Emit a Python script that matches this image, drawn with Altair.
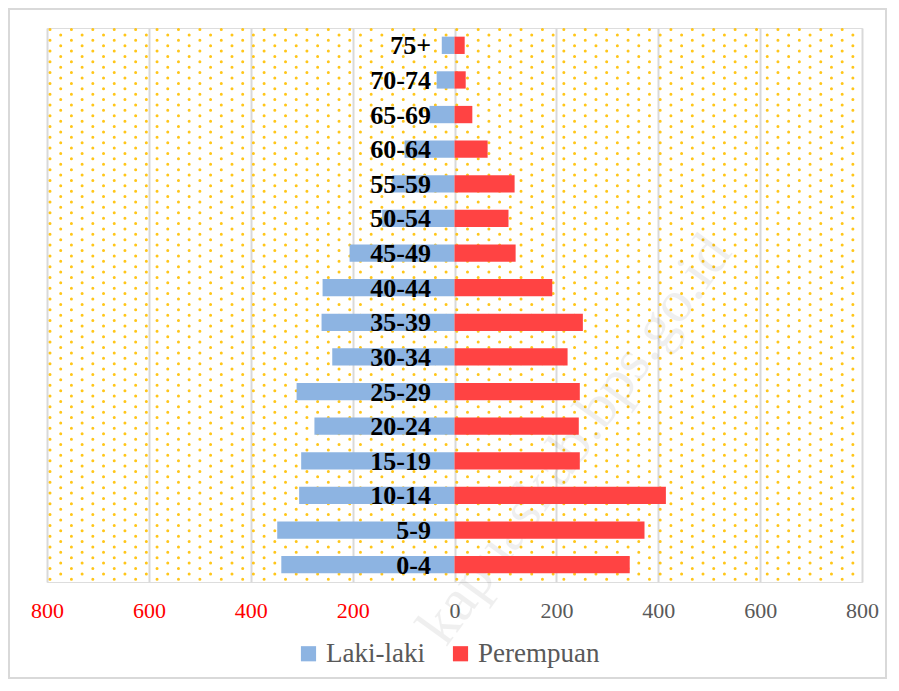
import altair as alt
import pandas as pd

ages = ["0-4", "5-9", "10-14", "15-19", "20-24", "25-29", "30-34", "35-39",
        "40-44", "45-49", "50-54", "55-59", "60-64", "65-69", "70-74", "75+"]
male = [340, 348, 305, 301, 275, 310, 240, 261, 259, 206, 142, 122, 98, 49, 35, 25]
female = [344, 373, 415, 246, 244, 246, 222, 252, 192, 120, 106, 118, 65, 35, 22, 20]
sexes = ["Laki-laki", "Perempuan"]
colors = ["#8DB4E2", "#FF4343"]
ticks = [-800, -600, -400, -200, 0, 200, 400, 600, 800]

W, H = 815, 554
order = ages[::-1]

rows = []
for a, m, f in zip(ages, male, female):
    rows.append({"age": a, "sex": sexes[0], "val": -m})
    rows.append({"age": a, "sex": sexes[1], "val": f})
df = pd.DataFrame(rows)
lab = pd.DataFrame({"age": ages})

font = "Liberation Serif"

# dotted background pattern (decoration)
dots_base = alt.Chart(alt.sequence(0, 103, as_="i")).transform_calculate(
    py="1.5 + datum.i * 5.39", par="datum.i % 2"
)
dot_style = dict(color="#FFC000", strokeWidth=3, strokeCap="round", strokeDash=[0.01, 21.4], opacity=0.9)
dots_even = dots_base.transform_filter("datum.par == 0").mark_rule(**dot_style).encode(
    y=alt.Y("py:Q", scale=None), x=alt.value(3), x2=alt.value(W))
dots_odd = dots_base.transform_filter("datum.par == 1").mark_rule(**dot_style).encode(
    y=alt.Y("py:Q", scale=None), x=alt.value(13.7), x2=alt.value(W))

watermark = alt.Chart(pd.DataFrame({"t": ["kapuaskab.bps.go.id"]})).mark_text(
    font=font, fontSize=60, angle=306, color="#000000", opacity=0.06, align="center", baseline="middle"
).encode(text="t:N", x=alt.value(528), y=alt.value(412))

border = alt.Chart(pd.DataFrame({"t": [1]})).mark_rect(
    fillOpacity=0, stroke="#D9D9D9", strokeWidth=2
).encode(x=alt.value(-38), x2=alt.value(W + 24), y=alt.value(-19), y2=alt.value(H + 96))

bars = alt.Chart(df).mark_bar().encode(
    x=alt.X("val:Q", scale=alt.Scale(domain=[-800, 800], nice=False),
            axis=alt.Axis(values=ticks, title=None, labelExpr="abs(datum.value)",
                          labelColor={"condition": {"test": "datum.value < 0", "value": "#FF0000"},
                                      "value": "#595959"},
                          labelFont=font, labelFontSize=22, labelPadding=18, labelFlush=False,
                          grid=True, gridColor="#D9D9D9", gridWidth=2,
                          domain=False, ticks=False)),
    y=alt.Y("age:N", sort=order, scale=alt.Scale(paddingInner=0.5, paddingOuter=0.25), axis=None),
    color=alt.Color("sex:N", scale=alt.Scale(domain=sexes, range=colors),
                    legend=alt.Legend(title=None, orient="none", legendX=248, legendY=612,
                                      direction="horizontal", labelFont=font, labelFontSize=27,
                                      labelColor="#595959", symbolType="square",
                                      symbolSize=230, symbolStrokeWidth=0, columnPadding=22,
                                      labelOffset=4)),
)

labels = alt.Chart(lab).mark_text(
    font=font, fontSize=26, fontWeight="bold", color="#000000", align="right", baseline="middle", dy=1
).encode(
    y=alt.Y("age:N", sort=order),
    x=alt.value(384),
    text="age:N",
)

chart = alt.layer(border, dots_even, dots_odd, watermark, bars, labels).properties(
    width=W, height=H,
    padding={"left": 39, "top": 20, "right": 25, "bottom": 97},
    autosize="none",
).configure_view(strokeWidth=0).configure(background="#FFFFFF")

chart.save("out.html", embed_options={"renderer": "svg", "actions": False})
